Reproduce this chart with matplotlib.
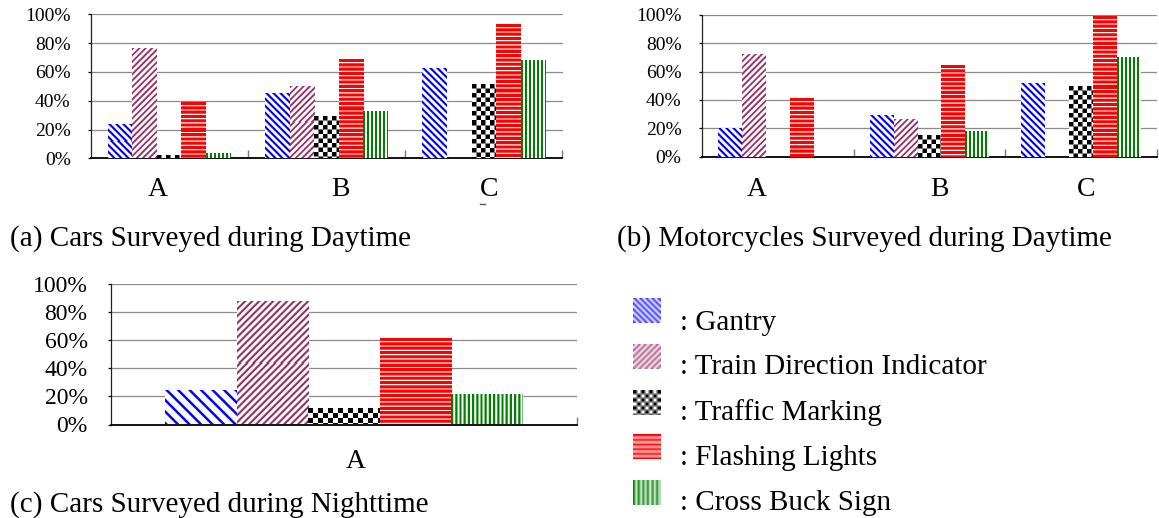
import numpy as np
import matplotlib
matplotlib.use("Agg")
import matplotlib.pyplot as plt
import matplotlib.colors as mcolors
from matplotlib.transforms import blended_transform_factory

# ---- data (percent of respondents) ----
day_sites = ["A", "B", "C"]
night_sites = ["A"]
features = ["Gantry", "Train Direction Indicator", "Traffic Marking",
            "Flashing Lights", "Cross Buck Sign"]

cars_day_gantry = [23.2, 44.8, 62.2]
cars_day_train = [76.1, 49.6, 0.0]
cars_day_marking = [1.6, 29.0, 51.0]
cars_day_flashing = [38.3, 68.4, 92.6]
cars_day_crossbuck = [3.2, 32.1, 67.6]

moto_day_gantry = [20.4, 29.3, 51.9]
moto_day_train = [72.3, 26.5, 0.0]
moto_day_marking = [0.0, 15.3, 49.8]
moto_day_flashing = [41.3, 64.6, 98.8]
moto_day_crossbuck = [0.0, 18.1, 70.2]

cars_night_gantry = [24.2]
cars_night_train = [87.2]
cars_night_marking = [11.4]
cars_night_flashing = [61.1]
cars_night_crossbuck = [21.3]

y_ticks = [0, 20, 40, 60, 80, 100]

# ---- styling ----
W, H = 1159, 518
plt.rcParams["font.family"] = ["Liberation Serif", "DejaVu Serif"]

colors = ["#0000ff", "#993366", "#000000", "#ff0000", "#008000"]
kinds = ["bdiag", "fdiag", "checker", "hline", "vline"]
# (period px, filled fraction) per feature, for the small and the large chart
fine = [(7.0, 0.40), (6.3, 0.42), (4.5, 0.5), (4.3, 0.72), (4.0, 0.52)]
coarse = [(11.5, 0.30), (7.0, 0.40), (5.0, 0.5), (4.3, 0.72), (4.2, 0.52)]


def texture(kind, w, h, period, frac, color, ss=4):
    """Patterned fill rendered at pixel resolution with supersampling."""
    yy, xx = np.mgrid[0:h * ss, 0:w * ss]
    xx = (xx + 0.5) / ss
    yy = (yy + 0.5) / ss
    if kind == "checker":
        on = ((np.floor(xx / period) + np.floor(yy / period)) % 2) == 0
    else:
        u = {"bdiag": xx - yy, "fdiag": xx + yy, "hline": yy, "vline": xx}[kind]
        on = (u % period) < period * frac
    cov = on.reshape(h, ss, w, ss).mean(axis=(1, 3))[..., None]
    rgb = np.array(mcolors.to_rgb(color))
    return (1 - cov) + cov * rgb


def box_blur(img, r=1):
    pad = np.pad(img, ((r, r), (r, r), (0, 0)), mode="edge")
    out = np.zeros_like(img)
    k = 2 * r + 1
    for dy in range(k):
        for dx in range(k):
            out += pad[dy:dy + img.shape[0], dx:dx + img.shape[1]]
    return out / (k * k)


def px_rect(x0, y_top, x1, y_bot):
    return [x0 / W, 1 - y_bot / H, (x1 - x0) / W, (y_bot - y_top) / H]


def draw_panel(ax, sites, series, patterns, group_frac, tick_size, tick_pad,
               label_offsets, label_y):
    n = len(series)
    ax.set_xlim(-0.5, len(sites) - 0.5)
    ax.set_ylim(0, 100)
    ax.set_autoscale_on(False)
    bw = group_frac / n
    x = np.arange(len(sites))
    for i, vals in enumerate(series):
        bars = ax.bar(x + (i - (n - 1) / 2) * bw, vals, bw, color="white",
                      edgecolor="none", zorder=2, label=features[i])
        period, frac = patterns[i]
        for b in bars:
            bb = b.get_window_extent()
            w, h = int(round(bb.width)), int(round(bb.height))
            if h < 1:
                continue
            tex = texture(kinds[i], w, h, period, frac, colors[i])
            x0 = b.get_x()
            ax.imshow(tex, extent=(x0, x0 + b.get_width(), 0, b.get_height()),
                      aspect="auto", interpolation="nearest", origin="upper",
                      zorder=3)

    ax.set_yticks(y_ticks)
    ax.set_yticklabels([f"{v}%" for v in y_ticks], fontsize=tick_size)
    ax.yaxis.grid(True, color="#8a8a8a", lw=0.9)
    ax.set_axisbelow(True)
    ax.tick_params(axis="y", direction="out", length=2.5, width=0.9,
                   pad=tick_pad, colors="#000000")
    ax.set_xticks(np.arange(len(sites)) + 0.5)
    ax.tick_params(axis="x", direction="in", length=5.5, width=1.0,
                   color="#7a7a7a", labelbottom=False)
    for side in ("top", "right"):
        ax.spines[side].set_visible(False)
    ax.spines["left"].set_linewidth(0.9)
    ax.spines["left"].set_color("#222222")
    ax.spines["bottom"].set_linewidth(1.3)
    ax.spines["bottom"].set_color("#000000")

    trans = blended_transform_factory(ax.transData, ax.transAxes)
    for i, (s, off) in enumerate(zip(sites, label_offsets)):
        ax.text(i + off, label_y, s, transform=trans, ha="center",
                va="baseline", fontsize=20)


fig = plt.figure(figsize=(W / 100, H / 100), dpi=100)

ax_a = fig.add_axes(px_rect(90.5, 14.3, 562.5, 158.3))
draw_panel(ax_a, day_sites,
           [cars_day_gantry, cars_day_train, cars_day_marking,
            cars_day_flashing, cars_day_crossbuck],
           fine, 0.78, 14, 11.8, [-0.07, 0.09, 0.035], -0.262)

ax_b = fig.add_axes(px_rect(702, 14.7, 1157, 156.7))
draw_panel(ax_b, day_sites,
           [moto_day_gantry, moto_day_train, moto_day_marking,
            moto_day_flashing, moto_day_crossbuck],
           fine, 0.79, 14, 12.3, [-0.137, 0.063, 0.033], -0.28)

ax_c = fig.add_axes(px_rect(111, 284.3, 577, 424.5))
draw_panel(ax_c, night_sites,
           [cars_night_gantry, cars_night_train, cars_night_marking,
            cars_night_flashing, cars_night_crossbuck],
           coarse, 0.768, 17, 14.4, [0.026], -0.312)

# captions
fig.text(10 / W, 1 - 246 / H, "(a) Cars Surveyed during Daytime",
         fontsize=21, va="baseline", ha="left")
fig.text(617 / W, 1 - 246 / H, "(b) Motorcycles Surveyed during Daytime",
         fontsize=21, va="baseline", ha="left")
fig.text(10 / W, 1 - 512 / H, "(c) Cars Surveyed during Nighttime",
         fontsize=21, va="baseline", ha="left")

# legend drawn in pixel space
leg = fig.add_axes([0, 0, 1, 1])
leg.set_xlim(0, W)
leg.set_ylim(H, 0)
leg.axis("off")
leg.set_autoscale_on(False)
icon_patterns = [(6.0, 0.40), (6.0, 0.40), (4.0, 0.5), (4.6, 0.6), (4.6, 0.5)]
icon_tops = [298, 344, 390, 434, 480]
text_baselines = [329.5, 374.5, 419.5, 465, 510]
for i, name in enumerate(features):
    top = icon_tops[i]
    iw, ih = 28, 25
    period, frac = icon_patterns[i]
    tex = box_blur(texture(kinds[i], iw, ih, period, frac, colors[i]))
    leg.imshow(tex, extent=(633, 633 + iw, top + ih, top), aspect="auto",
               interpolation="bilinear", origin="upper")
    leg.text(680, text_baselines[i], ": " + name, fontsize=21,
             va="baseline", ha="left")

# small stray mark beneath the "C" label of chart (a)
leg.plot([480, 485], [204, 204], color="#555555", lw=1.0)

fig.savefig("out.png", dpi=100)
